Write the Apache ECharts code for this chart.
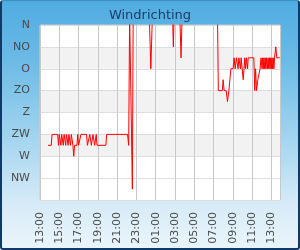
<!DOCTYPE html>
<html><head><meta charset="utf-8">
<script src="https://cdn.jsdelivr.net/npm/echarts@6/dist/echarts.min.js"></script>
<style>
html,body{margin:0;padding:0;width:300px;height:250px;overflow:hidden;background:#fff;}
#frame{position:absolute;left:0;top:0;width:300px;height:250px;box-sizing:border-box;border:2px solid #0f3a68;border-top:1px solid #3d8cc2;border-radius:3px;background:linear-gradient(to bottom,#50ace0 0%,#6cbbe6 25%,#a2d4ef 55%,#d6ebf7 82%,#eaf5fb 100%);}
#chart{position:absolute;left:0;top:0;width:300px;height:250px;}
</style></head><body>
<div id="frame"></div><div id="chart"></div>
<script>
// Wind direction readings (time of day, degrees; 0 = N, negative = past N, off the top)
const times = [
 // afternoon / evening day 1
 "13:50","14:10","14:15","14:50","14:55","15:00","15:10","15:15","15:25","15:30",
 "15:40","15:45","15:55","16:00","16:10","16:15","16:25","16:30","16:35","16:50",
 "16:55","17:00","17:10","17:15","17:50","17:55","18:05","18:10","18:20","18:30",
 "18:40","18:50","18:55","19:50","19:55","22:05","22:12","22:18","22:30","22:35","22:40",
 // night
 "00:20","00:30","00:40","02:45","02:50","02:55","03:30","03:38","03:45",
 // morning day 2
 "07:25","07:30","07:55","08:00","08:06","08:19","08:27","08:36","08:42","08:48",
 "09:02","09:08","09:12","09:15","09:20","09:23","09:30","09:33","09:38","09:45",
 "09:48","09:52","10:00","10:05","10:10","10:15","10:20","10:25","10:32","10:36",
 "11:11","11:17","11:22","11:28","11:36","11:44","11:50","11:56",
 "12:02","12:06","12:10","12:14","12:18","12:22","12:26","12:30","12:35","12:40",
 "12:44","12:48","12:52","12:56","13:00","13:04","13:08","13:12","13:16","13:20",
 "13:24","13:28","13:34","13:52"
];
const directions = [
 247.5,247.5,225,225,247.5,225,247.5,225,247.5,225,
 247.5,225,247.5,225,247.5,225,247.5,270,247.5,247.5,
 225,247.5,247.5,225,225,247.5,247.5,225,247.5,225,
 247.5,225,247.5,247.5,225,225,247.5,-22.5,-22.5,337.5,-22.5,
 -22.5,90,-22.5,-22.5,45,-22.5,-22.5,67.5,-22.5,
 -22.5,135,135,112.5,135,135,157.5,135,112.5,90,
 90,67.5,67.5,90,90,67.5,67.5,90,67.5,67.5,
 90,67.5,67.5,112.5,90,67.5,90,67.5,90,67.5,
 67.5,135,90,135,112.5,112.5,90,67.5,
 90,67.5,90,67.5,90,67.5,90,67.5,90,67.5,
 90,67.5,90,67.5,90,67.5,90,67.5,90,67.5,
 67.5,45,67.5,67.5
];
const compassLabels = ["N","NO","O","ZO","Z","ZW","W","NW"];
const startHour = 13;

// convert clock times to hours since the start (13:00), rolling over midnight
let day = 0, prevAbs = -1;
const xs = times.map(t => {
  const [h, m] = t.split(":").map(Number);
  let abs = h * 60 + m + day * 1440;
  if (abs < prevAbs) { day++; abs += 1440; }
  prevAbs = abs;
  return (abs - startHour * 60) / 60;
});
const seriesData = xs.map((x, i) => [x, directions[i]]);

const pad = n => (n < 10 ? "0" : "") + n;
const chart = echarts.init(document.getElementById("chart"), null, {renderer: "canvas"});
chart.setOption({
  animation: false,
  backgroundColor: "transparent",
  textStyle: {fontFamily: "DejaVu Sans"},
  title: {
    text: "Windrichting", left: "center", top: 4,
    textStyle: {color: "#1b3d69", fontSize: 13, fontWeight: "normal", fontFamily: "DejaVu Sans"}
  },
  grid: {left: 40, right: 20, top: 25, bottom: 50, show: true, backgroundColor: "#fff", borderColor: "#cccccc", borderWidth: 1},
  xAxis: {
    type: "value", min: 0, max: 24.9, interval: 2,
    axisLine: {show: false}, axisTick: {show: false},
    splitLine: {show: true, lineStyle: {color: "#c8c8c8", width: 1}},
    axisLabel: {
      rotate: 90, margin: 12, color: "#4a4a4a", fontSize: 11, showMaxLabel: false,
      formatter: v => pad((startHour + Math.round(v)) % 24) + ":00"
    }
  },
  yAxis: {
    type: "value", inverse: true, min: 0, max: 360, interval: 45,
    axisLine: {show: false}, axisTick: {show: false},
    splitLine: {show: true, lineStyle: {color: "#dddddd", width: 1}},
    splitArea: {show: true, areaStyle: {color: ["#ffffff","#f2f2f2","#ffffff","#f2f2f2","#ffffff","#f2f2f2","#ffffff","#ffffff"]}},
    axisLabel: {
      margin: 10, color: "#4a4a4a", fontSize: 11, showMaxLabel: false,
      formatter: v => compassLabels[Math.round(v / 45)] || ""
    }
  },
  series: [{
    type: "line", data: seriesData, showSymbol: false, symbol: "none", clip: true,
    lineStyle: {color: "#ff0000", width: 1}
  }]
});
</script>
</body></html>
